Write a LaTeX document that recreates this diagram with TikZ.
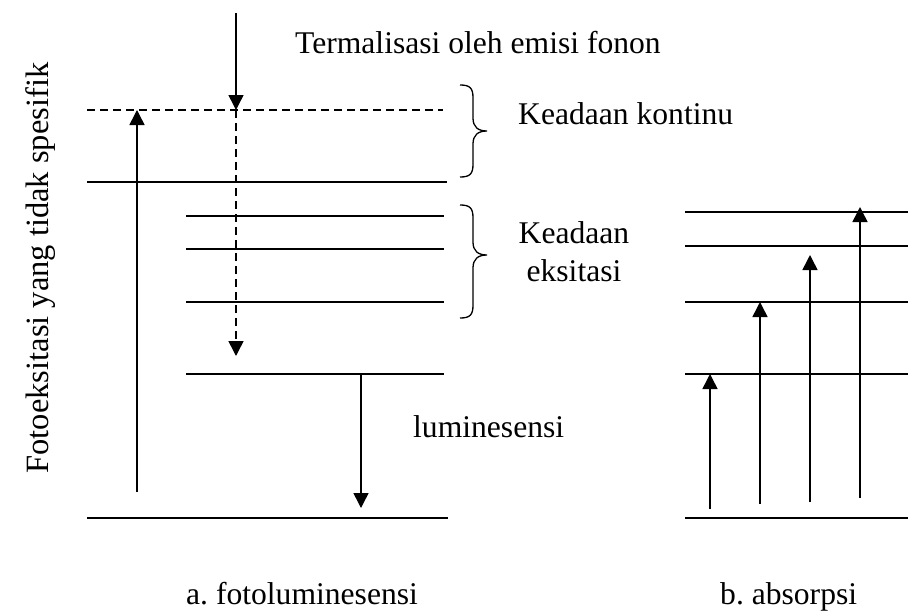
\documentclass[tikz,border=0pt]{standalone}
\usepackage{fontspec}
\setmainfont{Liberation Serif}
\usetikzlibrary{arrows.meta}
\frenchspacing
\begin{document}
\begin{tikzpicture}[x=1pt,y=-1pt,
  lvl/.style={line width=1.5pt},
  dlvl/.style={line width=1.5pt,dash pattern=on 8pt off 5pt},
  arr/.style={line width=1.5pt,-{Triangle[length=15pt,width=15pt]}},
  darr/.style={line width=1.5pt,dash pattern=on 8pt off 5pt,-{Triangle[length=15pt,width=15pt]}},
  brc/.style={line width=1.3pt},
  lbl/.style={inner sep=0pt,anchor=base west,font=\fontsize{31.6}{37}\selectfont}]
\useasboundingbox (0,0) rectangle (908,613);
% left panel levels
\coordinate (c0) at (87,110); \coordinate (c1) at (443,110);
\coordinate (k0) at (87,182); \coordinate (k1) at (447,182);
\coordinate (e10) at (186,216); \coordinate (e11) at (444,216);
\coordinate (e20) at (186,249); \coordinate (e21) at (444,249);
\coordinate (e30) at (186,302); \coordinate (e31) at (444,302);
\coordinate (m0) at (186,374); \coordinate (m1) at (444,374);
\coordinate (g0) at (87,518); \coordinate (g1) at (448,518);
\draw[dlvl] (c0) -- (c1);
\draw[lvl] (k0) -- (k1);
\draw[lvl] (e10) -- (e11);
\draw[lvl] (e20) -- (e21);
\draw[lvl] (e30) -- (e31);
\draw[lvl] (m0) -- (m1);
\draw[lvl] (g0) -- (g1);
% arrows left
\coordinate (ts) at (236,13); \coordinate (tt) at (236,110);
\coordinate (td) at (236,356);
\draw[arr] (ts) -- (tt);
\draw[darr] (tt) -- (td);
\coordinate (ps) at (137,492); \coordinate (pt) at (137,110);
\draw[arr] (ps) -- (pt);
\coordinate (ls) at (361,374); \coordinate (lt) at (361,508);
\draw[arr] (ls) -- (lt);
% braces
\draw[brc] (460,85) .. controls (470,85) and (473,88) .. (473,98) -- (473,118)
  .. controls (473,127) and (478,131) .. (487,131)
  .. controls (478,131) and (473,135) .. (473,144) -- (473,164)
  .. controls (473,174) and (470,177) .. (460,177);
\draw[brc] (460,205) .. controls (470,205) and (473,208) .. (473,218) -- (473,242)
  .. controls (473,251) and (478,255) .. (487,255)
  .. controls (478,255) and (473,259) .. (473,268) -- (473,305)
  .. controls (473,315) and (470,318) .. (460,318);
% right panel levels
\coordinate (r10) at (685,212); \coordinate (r11) at (908,212);
\coordinate (r20) at (685,246); \coordinate (r21) at (908,246);
\coordinate (r30) at (685,302); \coordinate (r31) at (908,302);
\coordinate (r40) at (685,374); \coordinate (r41) at (908,374);
\coordinate (r50) at (685,518); \coordinate (r51) at (908,518);
\draw[lvl] (r10) -- (r11);
\draw[lvl] (r20) -- (r21);
\draw[lvl] (r30) -- (r31);
\draw[lvl] (r40) -- (r41);
\draw[lvl] (r50) -- (r51);
\coordinate (a1s) at (710,509); \coordinate (a1t) at (710,374);
\coordinate (a2s) at (760,504); \coordinate (a2t) at (760,302);
\coordinate (a3s) at (810,502); \coordinate (a3t) at (810,255);
\coordinate (a4s) at (860,498); \coordinate (a4t) at (860,207);
\draw[arr] (a1s) -- (a1t);
\draw[arr] (a2s) -- (a2t);
\draw[arr] (a3s) -- (a3t);
\draw[arr] (a4s) -- (a4t);
% labels
\node[lbl] (term) at (295,53) {Termalisasi oleh emisi fonon};
\node[lbl] (kont) at (518,124) {Keadaan kontinu};
\node[lbl,anchor=base] (eks1) at (574,243) {Keadaan};
\node[lbl,anchor=base] (eks2) at (574,281) {eksitasi};
\node[lbl] (lum) at (413,437) {luminesensi};
\node[lbl] (fl) at (186,604) {a. fotoluminesensi};
\node[lbl] (ab) at (720,604) {b. absorpsi};
\node[lbl,anchor=base,rotate=90,font=\fontsize{32.5}{38}\selectfont] (vert) at (48,268) {Fotoeksitasi yang tidak spesifik};
\end{tikzpicture}
\end{document}
